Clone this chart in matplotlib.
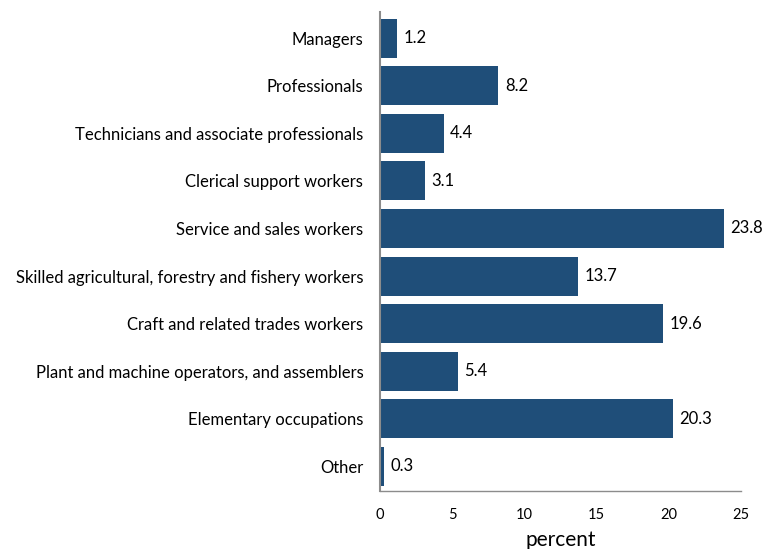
import numpy as np
import matplotlib.pyplot as plt

BAR_COLOR = "#1f4e79"
SPINE_COLOR = "#8c8c8c"

categories = [
    "Managers",
    "Professionals",
    "Technicians and associate professionals",
    "Clerical support workers",
    "Service and sales workers",
    "Skilled agricultural, forestry and fishery workers",
    "Craft and related trades workers",
    "Plant and machine operators, and assemblers",
    "Elementary occupations",
    "Other",
]
values = [1.2, 8.2, 4.4, 3.1, 23.8, 13.7, 19.6, 5.4, 20.3, 0.3]
x_ticks = [0, 5, 10, 15, 20, 25]

plt.rcParams["font.family"] = ["Lato", "DejaVu Sans"]

fig = plt.figure(figsize=(7.62, 5.49), dpi=100)
ax = fig.add_axes([0.4987, 0.1056, 0.4737, 0.8724])

y = np.arange(len(categories))
ax.barh(y, values, height=0.82, color=BAR_COLOR)

# value labels right of each bar
for yi, v in zip(y, values):
    ax.text(v + 0.45, yi, f"{v:.1f}", va="center", ha="left", fontsize=12, color="black")

ax.set_yticks(y)
ax.set_yticklabels(categories, fontsize=12)
ax.set_ylim(9.52, -0.55)
ax.set_xlim(0, 25)
ax.set_xticks(x_ticks)
ax.set_xticklabels([str(t) for t in x_ticks], fontsize=10.5)
ax.tick_params(axis="both", length=0)
ax.tick_params(axis="x", pad=12)
ax.tick_params(axis="y", pad=12)
ax.set_xlabel("percent", fontsize=15, labelpad=6)

for side in ["top", "right"]:
    ax.spines[side].set_visible(False)
ax.spines["left"].set_color(SPINE_COLOR)
ax.spines["bottom"].set_color(SPINE_COLOR)
ax.spines["left"].set_linewidth(1.5)
ax.spines["bottom"].set_linewidth(1.0)

fig.savefig("out.png", dpi=100)
